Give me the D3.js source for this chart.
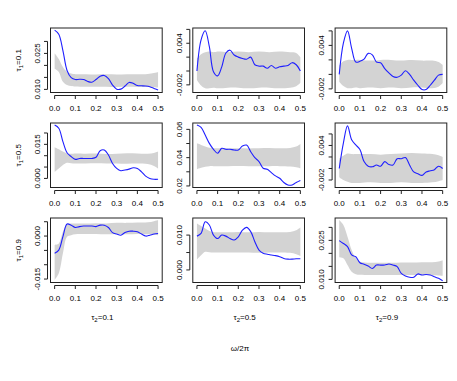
<!DOCTYPE html>
<html>
<head>
<meta charset="utf-8">
<script src="https://cdn.jsdelivr.net/npm/d3@7"></script>
<style>
    body { margin: 0; background: #fff; }
    svg text { font-family: "Liberation Sans", Arial, sans-serif; font-size: 8px; fill: #000; }
</style>
</head>
<body>
<div id="chart"></div>
<script>
    // frequencies (omega / 2pi) of the estimate, and of the gray band
    const freqs = [0, 0.02, 0.04, 0.06, 0.08, 0.10, 0.12, 0.14, 0.16, 0.18, 0.20, 0.22, 0.24,
                   0.26, 0.28, 0.30, 0.32, 0.34, 0.36, 0.38, 0.40, 0.42, 0.44, 0.46, 0.48, 0.50];
    const bandFreqs = [0, 0.02, 0.04, 0.06, 0.08, 0.10, 0.15, 0.20, 0.25, 0.30, 0.35, 0.40, 0.45, 0.48, 0.50];
    const xTicks = [0, 0.1, 0.2, 0.3, 0.4, 0.5];

    const tau1Levels = ["0.1", "0.5", "0.9"];
    const tau2Levels = ["0.1", "0.5", "0.9"];

    // row tau1=0.1
    const est11 = [0.0347, 0.0330, 0.0262, 0.0179, 0.0149, 0.0141, 0.0142, 0.0141, 0.0133, 0.0130, 0.0141, 0.0155, 0.0158,
                   0.0145, 0.0118, 0.0101, 0.0101, 0.0114, 0.0129, 0.0125, 0.0116, 0.0115, 0.0114, 0.0111, 0.0104, 0.0097];
    const up11 = [0.0251, 0.0227, 0.0193, 0.0173, 0.0166, 0.0163, 0.0163, 0.0162, 0.0163, 0.0162, 0.0163, 0.0163, 0.0164, 0.0168, 0.0173];
    const lo11 = [0.0186, 0.0173, 0.0132, 0.0118, 0.0114, 0.0112, 0.0111, 0.0111, 0.0111, 0.0110, 0.0111, 0.0110, 0.0110, 0.0109, 0.0108];
    const ylim11 = [0.0087, 0.0356];
    const ticks11 = [0.010, 0.015, 0.020, 0.025, 0.030];
    const labels11 = ["0.010", "", "", "0.025", ""];

    const est12 = [0.0000, 0.0045, 0.0058, 0.0035, -0.0001, -0.0007, 0.0006, 0.0026, 0.0030, 0.0023, 0.0020, 0.0018, 0.0017,
                   0.0020, 0.0009, 0.0007, 0.0007, 0.0004, 0.0008, 0.0004, 0.0006, 0.0007, 0.0008, 0.0012, 0.0009, 0.0000];
    const up12 = [0.0018, 0.0024, 0.0027, 0.0028, 0.0027, 0.0028, 0.0027, 0.0028, 0.0027, 0.0028, 0.0027, 0.0028, 0.0027, 0.0026, 0.0020];
    const lo12 = [-0.0013, -0.0021, -0.0025, -0.0025, -0.0024, -0.0025, -0.0024, -0.0024, -0.0025, -0.0024, -0.0024, -0.0025, -0.0024, -0.0022, -0.0017];
    const ylim12 = [-0.0031, 0.0062];
    const ticks12 = [-0.002, 0, 0.002, 0.004, 0.006];
    const labels12 = ["-0.002", "", "", "0.004", ""];

    const est13 = [0.0000, 0.0043, 0.0060, 0.0036, 0.0017, 0.0018, 0.0021, 0.0029, 0.0027, 0.0017, 0.0016, 0.0008, 0.0002,
                   -0.0003, -0.0004, -0.0001, 0.0005, 0.0000, -0.0008, -0.0015, -0.0021, -0.0021, -0.0015, -0.0008, -0.0001, 0.0000];
    const up13 = [0.0012, 0.0018, 0.0020, 0.0020, 0.0020, 0.0020, 0.0019, 0.0020, 0.0020, 0.0019, 0.0020, 0.0019, 0.0019, 0.0017, 0.0013];
    const lo13 = [-0.0010, -0.0016, -0.0019, -0.0019, -0.0018, -0.0019, -0.0018, -0.0019, -0.0018, -0.0019, -0.0018, -0.0018, -0.0019, -0.0017, -0.0012];
    const ylim13 = [-0.0025, 0.0064];
    const ticks13 = [-0.002, 0, 0.002, 0.004, 0.006];
    const labels13 = ["-0.002", "", "", "0.004", ""];

    // row tau1=0.5
    const est21 = [0.0235, 0.0221, 0.0162, 0.0113, 0.0096, 0.0084, 0.0088, 0.0088, 0.0088, 0.0088, 0.0093, 0.0122, 0.0125,
                   0.0103, 0.0066, 0.0044, 0.0034, 0.0037, 0.0041, 0.0047, 0.0044, 0.0029, 0.0010, 0.0000, -0.0004, -0.0004];
    const up21 = [0.0137, 0.0128, 0.0118, 0.0110, 0.0109, 0.0110, 0.0109, 0.0110, 0.0108, 0.0109, 0.0111, 0.0110, 0.0109, 0.0112, 0.0118];
    const lo21 = [0.0029, 0.0044, 0.0059, 0.0069, 0.0067, 0.0066, 0.0066, 0.0067, 0.0066, 0.0066, 0.0065, 0.0066, 0.0064, 0.0055, 0.0044];
    const ylim21 = [-0.0040, 0.0244];
    const ticks21 = [0, 0.005, 0.010, 0.015, 0.020];
    const labels21 = ["0.000", "", "", "0.015", ""];

    const est22 = [0.0631, 0.0614, 0.0560, 0.0501, 0.0459, 0.0431, 0.0466, 0.0459, 0.0459, 0.0454, 0.0454, 0.0482, 0.0489,
                   0.0442, 0.0400, 0.0372, 0.0325, 0.0318, 0.0294, 0.0271, 0.0254, 0.0224, 0.0207, 0.0207, 0.0224, 0.0238];
    const up22 = [0.0501, 0.0490, 0.0478, 0.0470, 0.0467, 0.0466, 0.0465, 0.0466, 0.0465, 0.0466, 0.0468, 0.0466, 0.0468, 0.0478, 0.0496];
    const lo22 = [0.0318, 0.0328, 0.0336, 0.0340, 0.0340, 0.0339, 0.0340, 0.0341, 0.0340, 0.0339, 0.0340, 0.0340, 0.0338, 0.0332, 0.0325];
    const ylim22 = [0.0189, 0.0645];
    const ticks22 = [0.02, 0.03, 0.04, 0.05, 0.06];
    const labels22 = ["0.02", "", "0.04", "", "0.06"];

    const est23 = [0.0000, 0.0044, 0.0074, 0.0050, 0.0041, 0.0033, 0.0012, 0.0004, 0.0003, 0.0006, 0.0004, 0.0012, 0.0007,
                   0.0006, 0.0017, 0.0017, 0.0019, 0.0006, -0.0006, -0.0009, -0.0012, -0.0006, -0.0004, -0.0002, 0.0004, 0.0000];
    const up23 = [0.0017, 0.0022, 0.0026, 0.0025, 0.0025, 0.0025, 0.0025, 0.0024, 0.0025, 0.0026, 0.0027, 0.0026, 0.0025, 0.0023, 0.0020];
    const lo23 = [-0.0015, -0.0020, -0.0023, -0.0025, -0.0025, -0.0025, -0.0024, -0.0025, -0.0025, -0.0024, -0.0025, -0.0025, -0.0024, -0.0022, -0.0020];
    const ylim23 = [-0.0033, 0.0079];
    const ticks23 = [-0.002, 0, 0.002, 0.004, 0.006];
    const labels23 = ["-0.002", "", "", "0.004", ""];

    // row tau1=0.9
    const est31 = [-0.0060, -0.0049, -0.0002, 0.0042, 0.0038, 0.0030, 0.0033, 0.0035, 0.0035, 0.0035, 0.0033, 0.0038, 0.0038,
                   0.0030, 0.0012, 0.0007, 0.0003, 0.0012, 0.0017, 0.0017, 0.0015, 0.0007, 0.0000, 0.0003, 0.0007, 0.0009];
    const up31 = [-0.0031, -0.0026, 0.0015, 0.0042, 0.0044, 0.0044, 0.0044, 0.0045, 0.0044, 0.0046, 0.0046, 0.0047, 0.0048, 0.0052, 0.0056];
    const lo31 = [-0.0153, -0.0130, -0.0060, -0.0002, 0.0003, 0.0006, 0.0007, 0.0007, 0.0006, 0.0007, 0.0006, 0.0007, 0.0006, 0.0005, 0.0003];
    const ylim31 = [-0.0162, 0.0063];
    const ticks31 = [-0.015, -0.010, -0.005, 0, 0.005];
    const labels31 = ["-0.015", "", "", "0.000", ""];

    const est32 = [0.0097, 0.0105, 0.0138, 0.0129, 0.0100, 0.0090, 0.0100, 0.0097, 0.0090, 0.0086, 0.0095, 0.0114, 0.0122,
                   0.0110, 0.0081, 0.0057, 0.0048, 0.0045, 0.0043, 0.0041, 0.0038, 0.0033, 0.0031, 0.0031, 0.0032, 0.0032];
    const up32 = [0.0133, 0.0126, 0.0119, 0.0112, 0.0109, 0.0108, 0.0108, 0.0109, 0.0108, 0.0109, 0.0108, 0.0108, 0.0109, 0.0114, 0.0122];
    const lo32 = [0.0030, 0.0042, 0.0052, 0.0051, 0.0050, 0.0050, 0.0050, 0.0050, 0.0050, 0.0049, 0.0050, 0.0050, 0.0049, 0.0045, 0.0040];
    const ylim32 = [-0.0036, 0.0149];
    const ticks32 = [0, 0.005, 0.010];
    const labels32 = ["0.000", "", "0.010"];

    const est33 = [0.0249, 0.0238, 0.0226, 0.0194, 0.0187, 0.0164, 0.0158, 0.0151, 0.0142, 0.0155, 0.0155, 0.0155, 0.0159,
                   0.0155, 0.0149, 0.0123, 0.0113, 0.0108, 0.0108, 0.0121, 0.0117, 0.0119, 0.0117, 0.0110, 0.0104, 0.0095];
    const up33 = [0.0328, 0.0309, 0.0264, 0.0213, 0.0181, 0.0168, 0.0164, 0.0164, 0.0164, 0.0165, 0.0165, 0.0166, 0.0166, 0.0169, 0.0174];
    const lo33 = [0.0185, 0.0181, 0.0155, 0.0129, 0.0120, 0.0118, 0.0117, 0.0117, 0.0117, 0.0117, 0.0117, 0.0117, 0.0116, 0.0115, 0.0114];
    const ylim33 = [0.0088, 0.0336];
    const ticks33 = [0.010, 0.015, 0.020, 0.025, 0.030];
    const labels33 = ["0.010", "", "", "0.025", ""];

    const panels = [
        { est: est11, up: up11, lo: lo11, ylim: ylim11, ticks: ticks11, labels: labels11 },
        { est: est12, up: up12, lo: lo12, ylim: ylim12, ticks: ticks12, labels: labels12 },
        { est: est13, up: up13, lo: lo13, ylim: ylim13, ticks: ticks13, labels: labels13 },
        { est: est21, up: up21, lo: lo21, ylim: ylim21, ticks: ticks21, labels: labels21 },
        { est: est22, up: up22, lo: lo22, ylim: ylim22, ticks: ticks22, labels: labels22 },
        { est: est23, up: up23, lo: lo23, ylim: ylim23, ticks: ticks23, labels: labels23 },
        { est: est31, up: up31, lo: lo31, ylim: ylim31, ticks: ticks31, labels: labels31 },
        { est: est32, up: up32, lo: lo32, ylim: ylim32, ticks: ticks32, labels: labels32 },
        { est: est33, up: up33, lo: lo33, ylim: ylim33, ticks: ticks33, labels: labels33 }
    ];

    const width = 457, height = 381;
    const colLeft = [50.5, 192.8, 335.1];
    const rowTop = [28, 123, 218];
    const pw = 111.7, ph = 64.5;
    const axisGap = 3, tickLen = 3.5;

    let svg = d3.select("#chart").append("svg")
        .attr("width", width)
        .attr("height", height);

    panels.forEach((p, i) => {
        let r = Math.floor(i / 3), c = i % 3;
        let left = colLeft[c], top = rowTop[r];

        let x = d3.scaleLinear().domain([-0.02, 0.52]).range([left, left + pw]);
        let y = d3.scaleLinear().domain(p.ylim).range([top + ph, top]);

        let g = svg.append("g");

        let area = d3.area()
            .x((d, k) => x(bandFreqs[k]))
            .y0(d => y(d[0]))
            .y1(d => y(d[1]))
            .curve(d3.curveCatmullRom.alpha(0.5));
        g.append("path")
            .datum(p.lo.map((v, k) => [v, p.up[k]]))
            .attr("d", area)
            .attr("fill", "#d3d3d3")
            .attr("stroke", "none");

        let line = d3.line()
            .x((d, k) => x(freqs[k]))
            .y(d => y(d))
            .curve(d3.curveCatmullRom.alpha(0.5));
        g.append("path")
            .datum(p.est)
            .attr("d", line)
            .attr("fill", "none")
            .attr("stroke", "#1f1fff")
            .attr("stroke-width", 1.1);

        g.append("rect")
            .attr("x", left)
            .attr("y", top)
            .attr("width", pw)
            .attr("height", ph)
            .attr("fill", "none")
            .attr("stroke", "#222")
            .attr("stroke-width", 1);

        // x axis (R style: line only between first and last tick)
        let ax = top + ph + axisGap;
        g.append("line")
            .attr("x1", x(xTicks[0])).attr("x2", x(xTicks[xTicks.length - 1]))
            .attr("y1", ax).attr("y2", ax)
            .attr("stroke", "#222");
        xTicks.forEach(t => {
            g.append("line")
                .attr("x1", x(t)).attr("x2", x(t))
                .attr("y1", ax).attr("y2", ax + tickLen)
                .attr("stroke", "#222");
            g.append("text")
                .attr("x", x(t))
                .attr("y", top + ph + 18.5)
                .attr("text-anchor", "middle")
                .text(d3.format(".1f")(t));
        });

        // y axis
        let ay = left - axisGap;
        g.append("line")
            .attr("x1", ay).attr("x2", ay)
            .attr("y1", y(p.ticks[0])).attr("y2", y(p.ticks[p.ticks.length - 1]))
            .attr("stroke", "#222");
        p.ticks.forEach((t, k) => {
            g.append("line")
                .attr("x1", ay - tickLen).attr("x2", ay)
                .attr("y1", y(t)).attr("y2", y(t))
                .attr("stroke", "#222");
            if (p.labels[k]) {
                g.append("text")
                    .attr("transform", `translate(${ay - 8},${y(t)}) rotate(-90)`)
                    .attr("text-anchor", "middle")
                    .text(p.labels[k]);
            }
        });
    });

    // row labels tau1
    tau1Levels.forEach((lv, r) => {
        let t = svg.append("text")
            .attr("transform", `translate(21,${rowTop[r] + ph / 2}) rotate(-90)`)
            .attr("text-anchor", "middle");
        t.append("tspan").text("\u03C4");
        t.append("tspan").attr("dy", 2).style("font-size", "6px").text("1");
        t.append("tspan").attr("dy", -2).text("=" + lv);
    });

    // column labels tau2
    tau2Levels.forEach((lv, c) => {
        let t = svg.append("text")
            .attr("x", colLeft[c] + pw / 2 - 4)
            .attr("y", 320)
            .attr("text-anchor", "middle");
        t.append("tspan").text("\u03C4");
        t.append("tspan").attr("dy", 2).style("font-size", "6px").text("2");
        t.append("tspan").attr("dy", -2).text("=" + lv);
    });

    svg.append("text")
        .attr("x", 240)
        .attr("y", 351)
        .attr("text-anchor", "middle")
        .text("\u03C9/2\u03C0");
</script>
</body>
</html>
